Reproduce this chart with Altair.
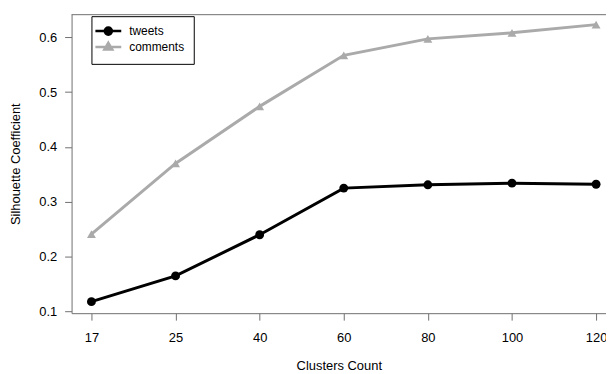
import altair as alt
import pandas as pd

clusters = ["17", "25", "40", "60", "80", "100", "120"]
tweets = [0.118, 0.165, 0.240, 0.325, 0.331, 0.334, 0.332]
comments = [0.241, 0.370, 0.474, 0.567, 0.597, 0.608, 0.623]
series_names = ["tweets", "comments"]
series_colors = ["#000000", "#aaaaaa"]
series_shapes = ["circle", "triangle-up"]
y_ticks = [0.1, 0.2, 0.3, 0.4, 0.5, 0.6]

rows = []
for name, vals in zip(series_names, [tweets, comments]):
    for c, v in zip(clusters, vals):
        rows.append({"series": name, "cluster": c, "value": v})
df = pd.DataFrame(rows)

FONT = "Liberation Sans"
AXC = "#707070"
FS = 13
W, H = 538, 301

x_enc = alt.X(
    "cluster:O", sort=clusters,
    scale=alt.Scale(type="point", padding=0.177, align=0.667),
    axis=alt.Axis(title="Clusters Count", labelAngle=0, tickSize=7, labelPadding=12,
                  titlePadding=15, labelFontSize=FS, titleFontSize=FS),
)
y_enc = alt.Y(
    "value:Q",
    scale=alt.Scale(domain=[0.097, 0.642], nice=False, zero=False),
    axis=alt.Axis(title="Silhouette Coefficient", values=y_ticks, format=".1f", grid=False,
                  tickSize=7, labelPadding=8, titlePadding=16, labelFontSize=FS,
                  titleFontSize=FS),
)
cscale = alt.Scale(domain=series_names, range=series_colors)

p_tw = "M-2.75,0H3.75M1.4,0A0.9,0.9,0,1,1,-0.4,0A0.9,0.9,0,1,1,1.4,0Z"
p_cm = "M-2.75,0H3.75M0.5,-1.05L1.5,0.65L-0.5,0.65Z"

legend = alt.Legend(
    orient="none", legendX=20, legendY=2, title=None,
    strokeColor="#000000", fillColor="white", padding=9,
    labelFontSize=12, labelFont=FONT, labelOffset=17, rowPadding=-3,
    symbolSize=64, symbolStrokeWidth=2.5, symbolOpacity=1,
    symbolType=alt.ExprRef(f"datum.value === 'tweets' ? '{p_tw}' : '{p_cm}'"),
    symbolStrokeColor=alt.ExprRef("datum.value === 'tweets' ? '#000000' : '#aaaaaa'"),
    symbolFillColor=alt.ExprRef("datum.value === 'tweets' ? '#000000' : '#aaaaaa'"),
)

base = alt.Chart(df)
lines = base.mark_line(strokeWidth=3).encode(
    x=x_enc, y=y_enc,
    color=alt.Color("series:N", scale=cscale, legend=legend),
    detail="series:N",
)
point_layers = []
for name, shp in zip(series_names, series_shapes):
    point_layers.append(
        base.transform_filter(alt.datum.series == name)
        .mark_point(filled=True, size=80, opacity=1, shape=shp)
        .encode(x=x_enc, y=y_enc, color=alt.Color("series:N", scale=cscale, legend=legend))
    )
top = alt.Chart(pd.DataFrame({"a": [0]})).mark_rule(color=AXC, strokeWidth=1).encode(
    x=alt.value(0), x2=alt.value(W), y=alt.value(0.5)
)

chart = alt.layer(top, lines, *point_layers).properties(
    width=W, height=H,
    autosize=alt.AutoSizeParams(type="none"),
    padding={"left": 64, "top": 5, "right": 0, "bottom": 62},
).configure_view(stroke=None).configure_axis(
    domainColor=AXC, tickColor=AXC, labelColor="#000000", titleColor="#000000",
    labelFont=FONT, titleFont=FONT, titleFontWeight="normal",
)

chart.save("out.html", embed_options={"renderer": "svg", "actions": False})
